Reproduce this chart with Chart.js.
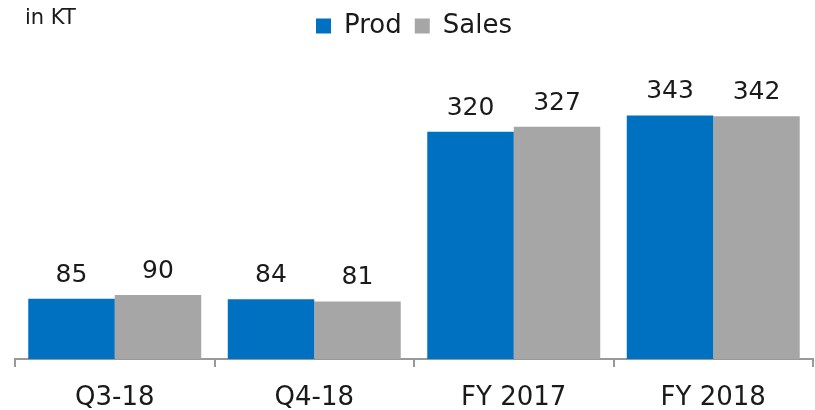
<!DOCTYPE html>
<html lang="en">
<head>
    <meta charset="UTF-8">
    <title>Prod vs Sales</title>
    <script src="https://cdn.jsdelivr.net/npm/chart.js"></script>
    <style>
        body { margin: 0; background: #fff; }
        #wrap { width: 815px; height: 410px; }
    </style>
</head>
<body>
    <div id="wrap"><canvas id="myChart" width="815" height="410"></canvas></div>

    <script>
        const categories = ['Q3-18', 'Q4-18', 'FY 2017', 'FY 2018'];
        const prod = [85, 84, 320, 343];
        const sales = [90, 81, 327, 342];
        const unitLabel = 'in KT';

        const fontFamily = '"DejaVu Sans", Verdana, sans-serif';
        const textColor = '#1a1a1a';

        // value labels above each bar + the unit note in the corner
        const labelPlugin = {
            id: 'barLabels',
            afterDatasetsDraw(chart) {
                const ctx = chart.ctx;
                ctx.save();
                ctx.fillStyle = textColor;
                ctx.font = '25px ' + fontFamily;
                ctx.textAlign = 'center';
                ctx.textBaseline = 'alphabetic';
                chart.data.datasets.forEach((ds, i) => {
                    chart.getDatasetMeta(i).data.forEach((bar, j) => {
                        ctx.fillText(ds.data[j], bar.x, bar.y - 17);
                    });
                });
                ctx.font = '21px ' + fontFamily;
                ctx.textAlign = 'left';
                ctx.fillText(unitLabel, 25, 24);
                ctx.restore();
            }
        };

        // extra room under the legend
        const legendGap = {
            id: 'legendGap',
            beforeInit(chart) {
                const fit = chart.legend.fit;
                chart.legend.fit = function () {
                    fit.bind(chart.legend)();
                    this.height += 26;
                };
            }
        };

        const ctx = document.getElementById('myChart').getContext('2d');
        const myChart = new Chart(ctx, {
            type: 'bar',
            data: {
                labels: categories,
                datasets: [
                    { label: 'Prod', data: prod, backgroundColor: '#0070C0', borderWidth: 0 },
                    { label: 'Sales', data: sales, backgroundColor: '#A6A6A6', borderWidth: 0 }
                ]
            },
            options: {
                responsive: false,
                animation: false,
                categoryPercentage: 0.867,
                barPercentage: 1,
                layout: { padding: { left: 15, right: 2, top: 0, bottom: 0 } },
                plugins: {
                    legend: {
                        position: 'top',
                        labels: {
                            boxWidth: 15,
                            boxHeight: 15,
                            padding: 13,
                            color: textColor,
                            font: { family: fontFamily, size: 26 }
                        }
                    },
                    tooltip: { enabled: false }
                },
                scales: {
                    x: {
                        afterFit(scale) { scale.height = 51; },
                        grid: {
                            offset: true,
                            drawOnChartArea: false,
                            drawTicks: true,
                            tickLength: 8,
                            color: '#999999',
                            lineWidth: 2
                        },
                        border: { display: true, color: '#999999', width: 2 },
                        ticks: {
                            color: textColor,
                            padding: 18,
                            font: { family: fontFamily, size: 26, lineHeight: 1 }
                        }
                    },
                    y: {
                        display: false,
                        min: 0,
                        max: 400
                    }
                }
            },
            plugins: [labelPlugin, legendGap]
        });
    </script>
</body>
</html>
